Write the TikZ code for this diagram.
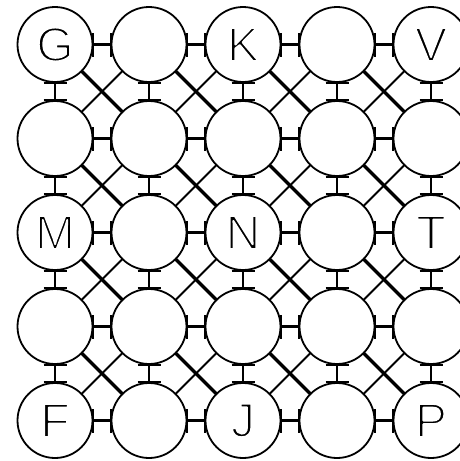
\documentclass[tikz,border=0pt]{standalone}
\usepackage{fontspec}
\setmainfont{Liberation Sans}
\makeatletter
\newcommand\thinletter[1]{\pgfsys@beginscope\pgfsys@invoke{2 Tr 1.9 w 1 1 1 RG 1 j}#1\pgfsys@endscope}
\makeatother
\begin{document}
\begin{tikzpicture}[x=1pt,y=-1pt,
  circ/.style={draw, circle, minimum size=75pt, inner sep=0pt, outer sep=0pt, line width=1.8pt},
  lbl/.style={inner sep=0pt, font=\fontsize{48}{48}\selectfont},
  link/.style={line width=2.2pt},
  bar/.style={line width=2pt},
  thickdiag/.style={line width=3.2pt},
  thindiag/.style={line width=1.8pt}]
\useasboundingbox (0,0) rectangle (460,461);
\clip (0,0) rectangle (460,461);
\foreach \r in {0,...,4}{
  \foreach \c in {0,...,4}{
    \node[circ] (n-\r-\c) at ({55+94*\c},{44.5+94*\r}) {};
  }
}
\node[lbl] (lG) at (n-0-0) {\thinletter{G}};
\node[lbl] (lK) at (n-0-2) {\thinletter{K}};
\node[lbl] (lV) at (n-0-4) {\thinletter{V}};
\node[lbl] (lM) at (n-2-0) {\thinletter{M}};
\node[lbl] (lN) at (n-2-2) {\thinletter{N}};
\node[lbl] (lT) at (n-2-4) {\thinletter{T}};
\node[lbl] (lF) at (n-4-0) {\thinletter{F}};
\node[lbl] (lJ) at (n-4-2) {\thinletter{J}};
\node[lbl] (lP) at (n-4-4) {\thinletter{P}};
% horizontal H links
\foreach \r in {0,...,4}{
  \foreach \c in {0,...,3}{
    \pgfmathtruncatemacro{\cn}{\c+1}
    \draw[link] (n-\r-\c.east) -- (n-\r-\cn.west);
    \draw[bar] ([yshift=-12pt,xshift=0.8pt]n-\r-\c.east) -- ([yshift=12pt,xshift=0.8pt]n-\r-\c.east);
    \draw[bar] ([yshift=-12pt,xshift=-0.8pt]n-\r-\cn.west) -- ([yshift=12pt,xshift=-0.8pt]n-\r-\cn.west);
  }
}
% vertical I links
\foreach \r in {0,...,3}{
  \foreach \c in {0,...,4}{
    \pgfmathtruncatemacro{\rn}{\r+1}
    \draw[link] (n-\r-\c.south) -- (n-\rn-\c.north);
    \draw[bar] ([xshift=-11.5pt,yshift=-0.8pt]n-\r-\c.south) -- ([xshift=11.5pt,yshift=-0.8pt]n-\r-\c.south);
    \draw[bar] ([xshift=-11.5pt,yshift=0.8pt]n-\rn-\c.north) -- ([xshift=11.5pt,yshift=0.8pt]n-\rn-\c.north);
  }
}
% diagonals
\foreach \r in {0,...,3}{
  \foreach \c in {0,...,3}{
    \pgfmathtruncatemacro{\rn}{\r+1}
    \pgfmathtruncatemacro{\cn}{\c+1}
    \draw[thickdiag] (n-\r-\c.south east) -- (n-\rn-\cn.north west);
    \draw[thindiag] (n-\r-\cn.south west) -- (n-\rn-\c.north east);
  }
}
\end{tikzpicture}
\end{document}
